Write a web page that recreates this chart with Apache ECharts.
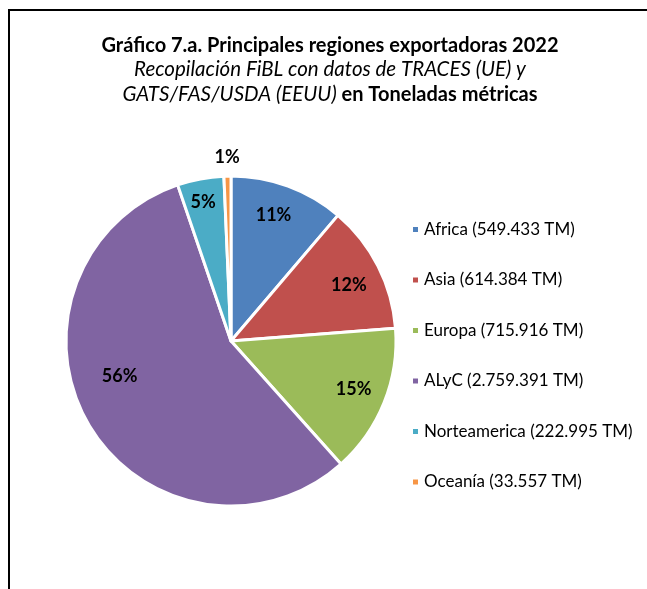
<!DOCTYPE html>
<html>
<head>
<meta charset="utf-8">
<script src="https://cdn.jsdelivr.net/npm/echarts@6/dist/echarts.min.js"></script>
<style>
  html, body { margin: 0; padding: 0; background: #fff; }
  #main { width: 647px; height: 589px; }
</style>
</head>
<body>
<div id="main"></div>
<script>
  // datos
  var regiones = ['Africa', 'Asia', 'Europa', 'ALyC', 'Norteamerica', 'Oceanía']
  var toneladas = [549433, 614384, 715916, 2759391, 222995, 33557]
  var colores = ['#4F81BD', '#C0504D', '#9BBB59', '#8064A2', '#4BACC6', '#F79646']
  var titulo1 = 'Gráfico 7.a. Principales regiones exportadoras 2022'
  var titulo2 = 'Recopilación FiBL con datos de TRACES (UE) y'
  var titulo3a = 'GATS/FAS/USDA (EEUU)'
  var titulo3b = ' en Toneladas métricas'

  // ajuste fino de las etiquetas (como el "mejor ajuste" de Excel)
  var labelOffsets = [[-2, -5], [3, 3], [3, 0], [0, -30], [-4, -12], [0, 0]]

  var fuente = 'Lato'

  function miles(v) {
    return String(v).replace(/\B(?=(\d{3})+(?!\d))/g, '.')
  }

  var pieData = regiones.map(function (r, i) {
    return {name: r, value: toneladas[i], itemStyle: {color: colores[i]}}
  })
  // Oceanía lleva la etiqueta fuera
  var innerLabelData = regiones.map(function (r, i) {
    return {name: r, value: toneladas[i], label: {show: i !== 5, offset: labelOffsets[i]}}
  })
  var outerLabelData = regiones.map(function (r, i) {
    return {name: r, value: toneladas[i], label: {show: i === 5, offset: labelOffsets[i]}}
  })

  var labelStyle = {
    position: 'inside',
    formatter: '{d}%',
    color: '#000',
    fontFamily: fuente,
    fontWeight: 'bold',
    fontSize: 18
  }

  var myChart = echarts.init(document.getElementById('main'))
  myChart.setOption({
    animation: false,
    title: {
      left: 325,
      top: 28,
      textAlign: 'center',
      text: '{b|' + titulo1 + '}\n{i|' + titulo2 + '}\n{i|' + titulo3a + '}{b|' + titulo3b + '}',
      textStyle: {
        fontWeight: 'normal',
        rich: {
          b: {fontFamily: fuente, fontWeight: 'bold', fontSize: 20, color: '#000', lineHeight: 24.5},
          i: {fontFamily: fuente, fontWeight: 'normal', fontStyle: 'italic', fontSize: 20.5, color: '#000', lineHeight: 24.5}
        }
      }
    },
    graphic: [{
      type: 'rect',
      shape: {x: 9, y: 10, width: 900, height: 900},
      style: {fill: 'none', stroke: '#000', lineWidth: 2},
      silent: true
    }],
    legend: {
      orient: 'vertical',
      left: 406,
      top: 216,
      itemWidth: 7,
      itemHeight: 7,
      itemGap: 33.5,
      icon: 'rect',
      data: regiones,
      textStyle: {fontFamily: fuente, fontSize: 17, color: '#000'},
      formatter: function (name) {
        var i = regiones.indexOf(name)
        return name + ' (' + miles(toneladas[i]) + ' TM)'
      }
    },
    series: [
      {
        type: 'pie',
        center: [231, 341],
        radius: 165,
        startAngle: 90,
        clockwise: true,
        percentPrecision: 0,
        label: {show: false},
        labelLine: {show: false},
        itemStyle: {borderColor: '#fff', borderWidth: 3},
        emphasis: {disabled: true},
        data: pieData
      },
      {
        type: 'pie',
        center: [231, 341],
        radius: [92, 160],
        startAngle: 90,
        percentPrecision: 0,
        silent: true,
        itemStyle: {color: 'transparent'},
        label: labelStyle,
        labelLine: {show: false},
        emphasis: {disabled: true},
        data: innerLabelData
      },
      {
        type: 'pie',
        center: [231, 341],
        radius: [170, 192],
        startAngle: 90,
        percentPrecision: 0,
        silent: true,
        itemStyle: {color: 'transparent'},
        label: labelStyle,
        labelLine: {show: false},
        emphasis: {disabled: true},
        data: outerLabelData
      }
    ]
  })
</script>
</body>
</html>
